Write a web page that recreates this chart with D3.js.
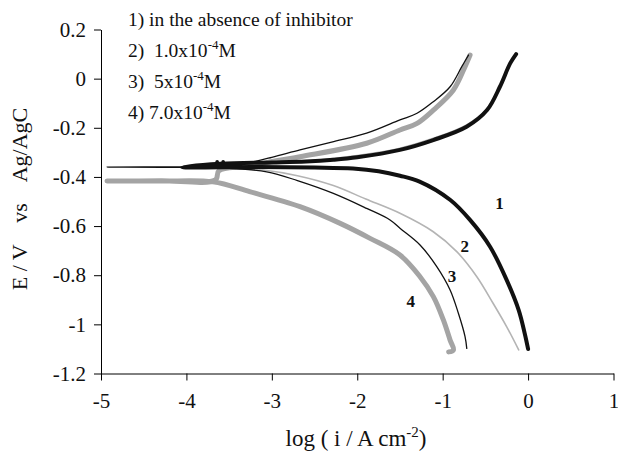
<!DOCTYPE html>
<html>
<head>
<meta charset="utf-8">
<script src="https://cdn.jsdelivr.net/npm/d3@7"></script>
<style>
  body { margin: 0; background: #fff; }
  svg { display: block; font-family: "Liberation Serif", "Times New Roman", serif; }
</style>
</head>
<body>
<svg id="chart" width="618" height="454"></svg>
<script>
// tick values
var xTicks = [-5, -4, -3, -2, -1, 0, 1];
var yTicks = [-1.2, -1, -0.8, -0.6, -0.4, -0.2, 0, 0.2];

// polarization curves, [log i, E] from the cathodic end up to the anodic end
var curve1 = [[0.00,-1.10],[-0.04,-1.036],[-0.11,-0.942],[-0.25,-0.82],[-0.445,-0.684],[-0.68,-0.575],
  [-0.91,-0.494],[-1.27,-0.419],[-1.5,-0.395],[-1.75,-0.377],[-2.05,-0.366],[-2.5,-0.362],[-3.2,-0.36],
  [-4.05,-0.36],[-3.6,-0.346],[-3.0,-0.341],[-2.6,-0.337],[-2.28,-0.33],[-2.0,-0.32],[-1.5,-0.29],
  [-1.11,-0.25],[-0.72,-0.196],[-0.48,-0.128],[-0.33,-0.033],[-0.21,0.062],[-0.14,0.10]];
var curve2 = [[-0.11,-1.104],[-0.25,-1.01],[-0.41,-0.914],[-0.60,-0.806],[-0.835,-0.704],[-1.11,-0.623],
  [-1.5,-0.548],[-1.9,-0.49],[-2.28,-0.435],[-2.7,-0.395],[-3.1,-0.372],[-3.5,-0.363],[-3.8,-0.36],
  [-3.5,-0.355],[-3.0,-0.345],[-2.5,-0.333],[-2.0,-0.313],[-1.5,-0.283],[-1.11,-0.243],[-0.72,-0.188],
  [-0.5,-0.13],[-0.36,-0.05],[-0.25,0.03],[-0.18,0.08]];
var curve3 = [[-0.718,-1.098],[-0.738,-1.05],[-0.816,-0.955],[-0.913,-0.86],[-1.069,-0.765],[-1.265,-0.677],
  [-1.5,-0.609],[-1.616,-0.575],[-1.89,-0.528],[-2.28,-0.467],[-2.7,-0.415],[-3.06,-0.379],[-3.5,-0.365],
  [-4.2,-0.361],[-4.93,-0.36],[-4.2,-0.359],[-3.5,-0.357],[-3.3,-0.345],[-3.0,-0.32],[-2.67,-0.29],
  [-2.3,-0.258],[-1.89,-0.222],[-1.5,-0.168],[-1.3,-0.141],[-1.11,-0.094],[-0.913,-0.033],[-0.776,0.049],
  [-0.698,0.096]];
var curve4 = [[-0.93,-1.112],[-0.874,-1.104],[-0.913,-1.064],[-0.992,-0.982],[-1.109,-0.887],[-1.265,-0.806],
  [-1.5,-0.718],[-1.85,-0.65],[-2.2,-0.589],[-2.67,-0.521],[-3.26,-0.46],[-3.69,-0.42],[-4.3,-0.417],
  [-4.93,-0.417],[-4.3,-0.416],[-3.66,-0.412],[-3.62,-0.375],[-3.3,-0.355],[-2.67,-0.318],[-1.89,-0.263],
  [-1.5,-0.209],[-1.3,-0.182],[-1.109,-0.128],[-0.874,-0.046],[-0.738,0.049],[-0.679,0.096]];
var strayDots = [[-3.64,-0.338],[-3.57,-0.338]];

// curve number labels
var curveNames = ["1", "2", "3", "4"];
var labelX = [-0.336, -0.741, -0.891, -1.374];
var labelY = [-0.507, -0.680, -0.802, -0.904];

// legend lines
var legendPre = ["1) in the absence of inhibitor", "2)  1.0x10", "3)  5x10", "4) 7.0x10"];
var legendSup = ["", "-4", "-4", "-4"];
var legendPost = ["", "M", "M", "M"];

var svg = d3.select("#chart");

var x = d3.scaleLinear().domain([-5, 1]).range([101, 613.5]);
var y = d3.scaleLinear().domain([-1.2, 0.2]).range([373.5, 29.5]);

var line = d3.line()
    .x(function (d) { return x(d[0]); })
    .y(function (d) { return y(d[1]); })
    .curve(d3.curveCatmullRom.alpha(0.5));

// Axes
var fmt = function (d) { return String(+d.toFixed(1)); };

svg.append("g")
    .attr("transform", "translate(" + x(-5) + ",0)")
    .call(d3.axisLeft(y).tickValues(yTicks).tickFormat(fmt).tickSize(7).tickSizeOuter(0).tickPadding(8));

svg.append("g")
    .attr("transform", "translate(0," + y(-1.2) + ")")
    .call(d3.axisBottom(x).tickValues(xTicks).tickFormat(fmt).tickSize(7).tickSizeOuter(0).tickPadding(13));

svg.selectAll(".domain, .tick line").attr("stroke", "#000").attr("stroke-width", 1);
svg.selectAll(".tick text")
    .attr("fill", "#111")
    .style("font-family", "Liberation Serif")
    .style("font-size", "21px");

// Curves, drawn back to front
var series = [
    { data: curve4, color: "#a4a4a4", width: 5 },
    { data: curve2, color: "#b4b4b4", width: 1.6 },
    { data: curve3, color: "#111", width: 1.3 },
    { data: curve1, color: "#111", width: 4 }
];

series.forEach(function (s) {
    svg.append("path")
        .attr("d", line(s.data))
        .attr("fill", "none")
        .attr("stroke", s.color)
        .attr("stroke-width", s.width)
        .attr("stroke-linejoin", "round")
        .attr("stroke-linecap", "round");
});

svg.selectAll("circle.stray")
    .data(strayDots)
    .enter().append("circle")
    .attr("class", "stray")
    .attr("cx", function (d) { return x(d[0]); })
    .attr("cy", function (d) { return y(d[1]); })
    .attr("r", 1.8)
    .attr("fill", "#111");

// Curve numbers
svg.selectAll("text.cname")
    .data(curveNames)
    .enter().append("text")
    .attr("class", "cname")
    .attr("x", function (d, i) { return x(labelX[i]); })
    .attr("y", function (d, i) { return y(labelY[i]); })
    .attr("dy", "0.35em")
    .attr("text-anchor", "middle")
    .attr("font-weight", "bold")
    .attr("font-size", 17)
    .attr("fill", "#111")
    .text(function (d) { return d; });

// Legend
legendPre.forEach(function (t, i) {
    var txt = svg.append("text")
        .attr("x", 128)
        .attr("y", 26 + i * 31)
        .attr("font-size", 19.5)
        .attr("fill", "#111")
        .style("white-space", "pre");
    txt.append("tspan").text(t);
    if (legendSup[i]) {
        txt.append("tspan").attr("font-size", 13).attr("dy", -8).text(legendSup[i]);
        txt.append("tspan").attr("dy", 8).text(legendPost[i]);
    }
});

// Axis titles
var xt = svg.append("text")
    .attr("x", 356)
    .attr("y", 446)
    .attr("text-anchor", "middle")
    .attr("font-size", 23)
    .attr("fill", "#111")
    .style("white-space", "pre");
xt.append("tspan").text("log ( i / A cm");
xt.append("tspan").attr("font-size", 15).attr("dy", -9).text("-2");
xt.append("tspan").attr("dy", 9).text(")");

svg.append("text")
    .attr("transform", "translate(27,199) rotate(-90)")
    .attr("text-anchor", "middle")
    .attr("font-size", 22)
    .attr("fill", "#111")
    .style("white-space", "pre")
    .text("E / V    vs    Ag/AgC");
</script>
</body>
</html>
